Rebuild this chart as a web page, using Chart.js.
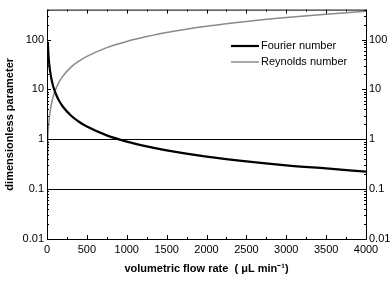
<!DOCTYPE html>
<html>
<head>
<meta charset="utf-8">
<script src="https://cdn.jsdelivr.net/npm/chart.js@4"></script>
<style>
  html, body { margin: 0; padding: 0; background: #fff; }
  #wrap { width: 392px; height: 283px; }
</style>
</head>
<body>
<div id="wrap"><canvas id="chart" width="392" height="283"></canvas></div>
<script>
// flow rate in µL/min
const flowRate = [1, 10, 20, 30, 50, 75, 100, 150, 200, 300, 400, 500, 750, 1000, 1250, 1500, 2000, 2500, 3000, 3500, 4000];
const fourierNumber = [null, 90, 45, 30, 18, 12, 9, 6, 4.5, 3, 2.25, 1.8, 1.2, 0.9, 0.72, 0.6, 0.45, 0.36, 0.3, 0.26, 0.225];
const reynoldsNumber = [0.1, 0.92, 1.85, 2.8, 4.6, 6.9, 9.2, 14, 18.5, 28, 37, 46, 69, 92, 115, 139, 185, 231, 277, 323, 370];
const yTicks = [0.01, 0.1, 1, 10, 100];
const refLines = [1, 0.1];

const FONT = "'Liberation Sans', Arial, sans-serif";

function points(ys) {
  return flowRate.map((q, i) => ({ x: q, y: ys[i] }));
}

// border box, inward ticks and legend
const frame = {
  id: "frame",
  afterDraw(chart) {
    const ctx = chart.ctx;
    const a = chart.chartArea;
    const xs = chart.scales.x, ys = chart.scales.y;
    ctx.save();
    ctx.strokeStyle = "#000";
    ctx.lineWidth = 1;
    ctx.strokeRect(a.left + 0.5, a.top + 0.5, a.right - a.left, a.bottom - a.top);

    ctx.beginPath();
    for (let q = 0; q <= 4000; q += 250) {
      const px = Math.round(xs.getPixelForValue(q)) + 0.5;
      const len = q % 500 === 0 ? 4 : 2;
      ctx.moveTo(px, a.bottom); ctx.lineTo(px, a.bottom - len);
      ctx.moveTo(px, a.top); ctx.lineTo(px, a.top + len);
    }
    for (let d = 0.01; d < 500; d *= 10) {
      for (let m = 1; m < 10; m++) {
        const v = d * m;
        if (v > ys.max) break;
        const py = Math.round(ys.getPixelForValue(v)) + 0.5;
        const len = m === 1 ? 4 : 2;
        ctx.moveTo(a.left, py); ctx.lineTo(a.left + len, py);
        ctx.moveTo(a.right, py); ctx.lineTo(a.right - len, py);
      }
    }
    ctx.stroke();

    // legend
    ctx.font = "11px " + FONT;
    ctx.textBaseline = "middle";
    ctx.fillStyle = "#000";
    chart.data.datasets.forEach((ds, i) => {
      const y = 46 + i * 16;
      ctx.strokeStyle = ds.borderColor;
      ctx.lineWidth = ds.borderWidth;
      ctx.beginPath();
      ctx.moveTo(231, y); ctx.lineTo(259, y);
      ctx.stroke();
      ctx.fillText(ds.label, 261, y);
    });
    ctx.restore();
  }
};

const yScale = (pos) => ({
  type: "logarithmic",
  position: pos,
  min: 0.01,
  max: 400,
  afterBuildTicks: (s) => { s.ticks = yTicks.map(v => ({ value: v })); },
  afterFit: (s) => { s.width = pos === "left" ? 47 : 26; },
  ticks: {
    color: "#000",
    font: { size: 11, family: FONT },
    padding: 3,
    callback: (v) => String(v)
  },
  grid: {
    display: pos === "left",
    drawTicks: false,
    color: (c) => refLines.includes(c.tick && c.tick.value) ? "#000" : "rgba(0,0,0,0)",
    lineWidth: 1
  },
  border: { display: false },
  title: pos === "left" ? {
    display: true,
    text: "dimensionless parameter",
    color: "#000",
    font: { size: 11, weight: "bold", family: FONT },
    padding: { top: 3, bottom: 2 }
  } : { display: false }
});

new Chart(document.getElementById("chart"), {
  type: "line",
  data: {
    datasets: [
      {
        label: "Fourier number",
        data: points(fourierNumber),
        borderColor: "#000",
        borderWidth: 2.2,
        pointRadius: 0,
        cubicInterpolationMode: "monotone",
        spanGaps: true
      },
      {
        label: "Reynolds number",
        data: points(reynoldsNumber),
        borderColor: "#8a8a8a",
        borderWidth: 1.5,
        pointRadius: 0,
        cubicInterpolationMode: "monotone"
      }
    ]
  },
  options: {
    responsive: false,
    animation: false,
    devicePixelRatio: 1,
    layout: { padding: { top: 3, left: 0, right: 0, bottom: 0 } },
    plugins: { legend: { display: false }, tooltip: { enabled: false } },
    scales: {
      x: {
        type: "linear",
        min: 0,
        max: 4000,
        afterFit: (s) => { s.height = 44; },
        ticks: {
          stepSize: 500,
          color: "#000",
          font: { size: 11, family: FONT },
          padding: 4,
          maxRotation: 0,
          callback: (v) => String(v)
        },
        grid: { display: false, drawTicks: false },
        border: { display: false },
        title: {
          display: true,
          text: "volumetric flow rate  ( \u03bcL min\u207b\u00b9)",
          color: "#000",
          font: { size: 11, weight: "bold", family: FONT },
          padding: { top: 0, bottom: 7 }
        }
      },
      y: yScale("left"),
      y2: yScale("right")
    }
  },
  plugins: [frame]
});
</script>
</body>
</html>
